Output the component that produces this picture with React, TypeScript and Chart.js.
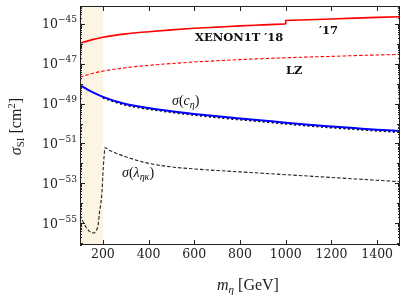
import React, { useEffect, useRef } from "react";
import { Chart, registerables } from "chart.js";

Chart.register(...registerables);

// ---- data (log10 of sigma_SI in cm^2) ----
const xenon18Mass = [100, 150, 200, 300, 400, 500, 600, 700, 800, 900, 1000];
const xenon18Log = [-45.97, -45.8, -45.67, -45.5, -45.39, -45.3, -45.22, -45.16, -45.1, -45.05, -45.0];

const xenon17Mass = [1000, 1000, 1100, 1200, 1300, 1400, 1500];
const xenon17Log = [-45.0, -44.83, -44.79, -44.75, -44.71, -44.67, -44.64];

const lzMass = [100, 150, 200, 300, 400, 500, 600, 700, 800, 900, 1000, 1100, 1200, 1300, 1400, 1500];
const lzLog = [-47.67, -47.5, -47.37, -47.2, -47.08, -46.99, -46.91, -46.85, -46.79, -46.74, -46.7, -46.66, -46.63, -46.59, -46.56, -46.53];

const cEtaMass = [100, 150, 200, 300, 400, 500, 600, 700, 800, 900, 1000, 1100, 1200, 1300, 1400, 1500];
const cEtaLog = [-48.07, -48.4, -48.66, -49.02, -49.22, -49.38, -49.52, -49.64, -49.75, -49.85, -49.96, -50.06, -50.15, -50.23, -50.31, -50.38];

const dottedMass = [200, 300, 400, 500, 600, 700, 800, 900, 1000, 1100, 1200, 1300, 1400, 1500];
const dottedLog = [-48.71, -49.07, -49.27, -49.43, -49.57, -49.69, -49.8, -49.9, -50.01, -50.11, -50.2, -50.28, -50.36, -50.43];

const lamMass = [100, 110, 120, 130, 140, 150, 160, 170, 180, 185, 190, 195, 197, 200, 205, 209, 230, 250, 300, 400, 500, 600, 700, 800, 900, 1000, 1100, 1200, 1300, 1400, 1500];
const lamLog = [-54.6, -54.85, -55.08, -55.27, -55.4, -55.48, -55.5, -55.4, -55.05, -54.5, -54.1, -53.6, -53.3, -52.6, -51.7, -51.22, -51.35, -51.45, -51.67, -52.0, -52.18, -52.28, -52.36, -52.43, -52.5, -52.57, -52.64, -52.71, -52.78, -52.85, -52.92];

const xTicks = [200, 400, 600, 800, 1000, 1200, 1400];
const yLabelExps = [-55, -53, -51, -49, -47, -45];
const shadeRange = [100, 200];

const X_MIN = 100;
const X_MAX = 1500;
const Y_MIN_EXP = -56.1;
const Y_MAX_EXP = -44.1;

const pts = (m: number[], l: number[]) => m.map((x, i) => ({ x, y: Math.pow(10, l[i]) }));

type Run = { t: string; f: string; dy?: number };

function drawRuns(ctx: CanvasRenderingContext2D, runs: Run[], x: number, y: number, align: "left" | "center" | "right") {
  ctx.textAlign = "left";
  ctx.textBaseline = "alphabetic";
  const widths = runs.map((r) => {
    ctx.font = r.f;
    return ctx.measureText(r.t).width;
  });
  const total = widths.reduce((a, b) => a + b, 0);
  let cx = align === "left" ? x : align === "center" ? x - total / 2 : x - total;
  runs.forEach((r, i) => {
    ctx.font = r.f;
    ctx.fillText(r.t, cx, y + (r.dy || 0));
    cx += widths[i];
  });
}

const SERIF = '"DejaVu Serif", serif';
const LSERIF = '"Liberation Serif", serif';

const decorPlugin = {
  id: "decor",
  beforeDatasetsDraw(chart: any) {
    const { ctx, chartArea, scales } = chart;
    const x0 = scales.x.getPixelForValue(shadeRange[0]);
    const x1 = scales.x.getPixelForValue(shadeRange[1]);
    ctx.save();
    ctx.fillStyle = "#fdf4e3";
    ctx.fillRect(x0, chartArea.top, x1 - x0, chartArea.bottom - chartArea.top);
    ctx.restore();
  },
  afterDraw(chart: any) {
    const { ctx, chartArea: a, scales } = chart;
    const xs = scales.x;
    const ys = scales.y;
    ctx.save();
    ctx.strokeStyle = "#222";
    ctx.lineWidth = 1;
    // ticks
    ctx.beginPath();
    xTicks.forEach((v) => {
      const px = Math.round(xs.getPixelForValue(v)) + 0.5;
      ctx.moveTo(px, a.bottom);
      ctx.lineTo(px, a.bottom - 5);
      ctx.moveTo(px, a.top);
      ctx.lineTo(px, a.top + 5);
    });
    for (let e = -57; e <= -44; e++) {
      for (let s = 1; s <= 9; s++) {
        const v = s * Math.pow(10, e);
        const lv = Math.log10(v);
        if (lv < Y_MIN_EXP || lv > Y_MAX_EXP) continue;
        const py = Math.round(ys.getPixelForValue(v)) + 0.5;
        let len = 2;
        if (s === 1) len = Math.abs(e) % 2 === 1 ? 5 : 3;
        ctx.moveTo(a.left, py);
        ctx.lineTo(a.left + len, py);
        ctx.moveTo(a.right, py);
        ctx.lineTo(a.right - len, py);
      }
    }
    ctx.stroke();
    // frame
    ctx.strokeRect(a.left + 0.5, a.top + 0.5, a.right - a.left - 1, a.bottom - a.top - 1);

    ctx.fillStyle = "#222";
    // x tick labels
    xTicks.forEach((v) => {
      drawRuns(ctx, [{ t: String(v), f: `12.5px ${SERIF}` }], xs.getPixelForValue(v), a.bottom + 12.5, "center");
    });
    // y tick labels
    yLabelExps.forEach((e) => {
      const py = ys.getPixelForValue(Math.pow(10, e));
      drawRuns(
        ctx,
        [
          { t: "10", f: `12.5px ${SERIF}` },
          { t: "\u2212" + String(-e), f: `9px ${SERIF}`, dy: -6 },
        ],
        a.left - 3,
        py + 4.5,
        "right"
      );
    });
    // x title
    drawRuns(
      ctx,
      [
        { t: "m", f: `italic 16px ${LSERIF}` },
        { t: "\u03b7", f: `italic 11px ${LSERIF}`, dy: 3 },
        { t: " [GeV]", f: `16px ${LSERIF}` },
      ],
      (a.left + a.right) / 2 + 8,
      290,
      "center"
    );
    // y title
    ctx.save();
    ctx.translate(20.5, (a.top + a.bottom) / 2 + 1);
    ctx.rotate(-Math.PI / 2);
    drawRuns(
      ctx,
      [
        { t: "\u03c3", f: `italic 16px ${LSERIF}` },
        { t: "SI", f: `11px ${LSERIF}`, dy: 3 },
        { t: " [cm", f: `16px ${LSERIF}` },
        { t: "2", f: `11px ${LSERIF}`, dy: -6 },
        { t: "]", f: `16px ${LSERIF}` },
      ],
      0,
      0,
      "center"
    );
    ctx.restore();

    // annotations
    ctx.fillStyle = "#111";
    drawRuns(ctx, [{ t: "XENON1T \u203218", f: `bold 11.5px ${SERIF}` }], 195, 41, "left");
    drawRuns(ctx, [{ t: "\u203217", f: `bold 11.5px ${SERIF}` }], 319, 34, "left");
    drawRuns(ctx, [{ t: "LZ", f: `bold 11.5px ${SERIF}` }], 286, 74, "left");
    drawRuns(
      ctx,
      [
        { t: "\u03c3", f: `italic 14px ${LSERIF}` },
        { t: "(", f: `14px ${LSERIF}` },
        { t: "c", f: `italic 14px ${LSERIF}` },
        { t: "\u03b7", f: `italic 10px ${LSERIF}`, dy: 3 },
        { t: ")", f: `14px ${LSERIF}` },
      ],
      172,
      105,
      "left"
    );
    drawRuns(
      ctx,
      [
        { t: "\u03c3", f: `italic 14px ${LSERIF}` },
        { t: "(", f: `14px ${LSERIF}` },
        { t: "\u03bb", f: `italic 14px ${LSERIF}` },
        { t: "\u03b7\u03ba", f: `italic 10px ${LSERIF}`, dy: 3 },
        { t: ")", f: `14px ${LSERIF}` },
      ],
      122,
      177,
      "left"
    );
    ctx.restore();
  },
};

export default function App() {
  const ref = useRef<HTMLCanvasElement | null>(null);
  useEffect(() => {
    document.body.style.margin = "0";
    if (!ref.current) return;
    const chart = new Chart(ref.current, {
      type: "line",
      data: {
        datasets: [
          { data: pts(lamMass, lamLog), borderColor: "#222", borderWidth: 1.1, borderDash: [3.5, 2], cubicInterpolationMode: "monotone" },
          { data: pts(cEtaMass, cEtaLog), borderColor: "#0000ff", borderWidth: 2, cubicInterpolationMode: "monotone" },
          { data: pts(dottedMass, dottedLog), borderColor: "#000", borderWidth: 2, borderDash: [2, 2.5], cubicInterpolationMode: "monotone" },
          { data: pts(lzMass, lzLog), borderColor: "#ff0000", borderWidth: 1.1, borderDash: [3.5, 2], cubicInterpolationMode: "monotone" },
          { data: pts(xenon18Mass, xenon18Log), borderColor: "#ff0000", borderWidth: 1.6, cubicInterpolationMode: "monotone" },
          { data: pts(xenon17Mass, xenon17Log), borderColor: "#ff0000", borderWidth: 1.6, tension: 0 },
        ] as any,
      },
      options: {
        animation: false,
        responsive: false,
        parsing: false,
        normalized: true,
        layout: { padding: { left: 80, right: 7, top: 6, bottom: 58 } },
        elements: { point: { radius: 0 }, line: { fill: false } },
        plugins: { legend: { display: false }, tooltip: { enabled: false } },
        scales: {
          x: { type: "linear", min: X_MIN, max: X_MAX, display: false },
          y: { type: "logarithmic", min: Math.pow(10, Y_MIN_EXP), max: Math.pow(10, Y_MAX_EXP), display: false },
        },
      } as any,
      plugins: [decorPlugin],
    });
    return () => chart.destroy();
  }, []);
  return <canvas ref={ref} width={407} height={303} style={{ display: "block" }} />;
}
